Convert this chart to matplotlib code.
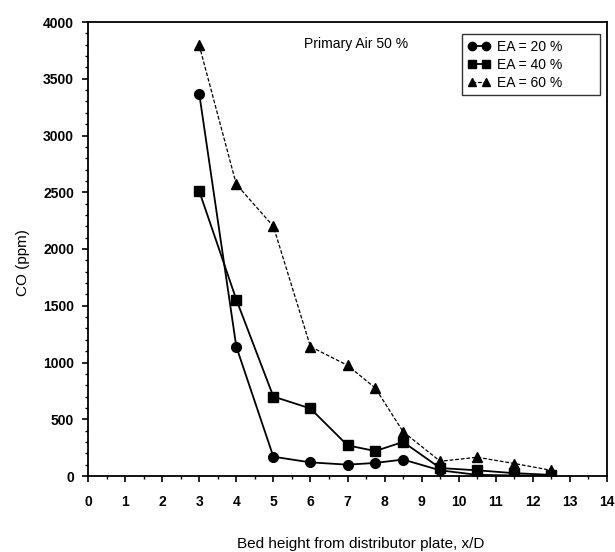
import matplotlib
matplotlib.use("Agg")
import matplotlib.pyplot as plt
from matplotlib.ticker import MultipleLocator

plt.rcParams['font.family'] = ['Liberation Sans', 'DejaVu Sans']

# bed height x/D
xd = [3, 4, 5, 6, 7, 7.75, 8.5, 9.5, 10.5, 11.5, 12.5]

# CO (ppm) for each excess air level
co_ea20 = [3370, 1140, 170, 120, 100, 115, 145, 50, 10, 5, 0]
co_ea40 = [2510, 1555, 700, 595, 270, 220, 300, 70, 50, 25, 10]
co_ea60 = [3795, 2570, 2200, 1140, 975, 775, 390, 130, 165, 110, 50]

labels = ['EA = 20 %', 'EA = 40 %', 'EA = 60 %']

fig = plt.figure(figsize=(6.15, 5.52), dpi=100)
ax = fig.add_axes([88/615, 1 - 476/552, (607 - 88)/615, (476 - 22)/552])

ax.plot(xd, co_ea20, color='black', lw=1.3, marker='o', ms=7, label=labels[0])
ax.plot(xd, co_ea40, color='black', lw=1.3, marker='s', ms=7, label=labels[1])
ax.plot(xd, co_ea60, color='black', lw=0.9, ls=(0, (3, 1.5)), marker='^', ms=7,
        label=labels[2])

ax.set_xlim(0, 14)
ax.set_ylim(0, 4000)
ax.xaxis.set_major_locator(MultipleLocator(1))
ax.xaxis.set_minor_locator(MultipleLocator(0.5))
ax.yaxis.set_major_locator(MultipleLocator(500))
ax.yaxis.set_minor_locator(MultipleLocator(100))

ax.tick_params(axis='both', which='major', direction='out', length=4, width=1.2,
               labelsize=10, colors='black')
ax.tick_params(axis='both', which='minor', direction='out', length=2.5, width=1)
ax.tick_params(axis='x', pad=10)
ax.tick_params(axis='y', pad=6)
for lbl in ax.get_xticklabels() + ax.get_yticklabels():
    lbl.set_fontweight('bold')
for s in ax.spines.values():
    s.set_linewidth(1.3)

ax.set_xlabel('Bed height from distributor plate, x/D', fontsize=11)
ax.xaxis.set_label_coords(0.525, -0.135)
ax.set_ylabel('CO (ppm)', fontsize=11)
ax.yaxis.set_label_coords(-0.112, 0.47)

fig.text(304/615, 1 - 44/552, 'Primary Air 50 %', fontsize=10, va='center', ha='left')

leg = ax.legend(loc='upper left', mode='expand',
                bbox_to_anchor=(462/615, 1 - 97/552, 138/615, 63/552),
                bbox_transform=fig.transFigure, frameon=True, fancybox=False,
                edgecolor='black', fontsize=10, numpoints=2, handlelength=1.6,
                borderpad=0.4, labelspacing=0.3, handletextpad=0.5, markerscale=0.85,
                borderaxespad=0)
leg.get_frame().set_linewidth(1.0)

fig.savefig('out.png', dpi=100)
